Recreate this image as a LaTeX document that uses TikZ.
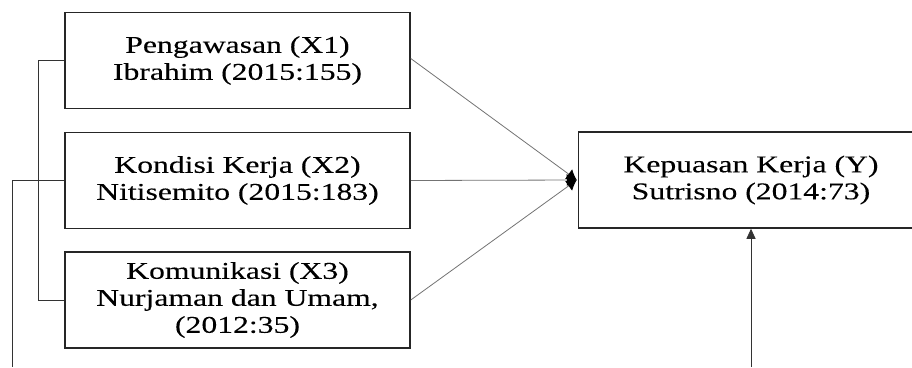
\documentclass[tikz,border=0pt]{standalone}
\usepackage{fontspec}
\setmainfont{Liberation Serif}[FakeStretch=1.32,FakeBold=0.15]
\usetikzlibrary{arrows.meta}
\begin{document}
\begin{tikzpicture}[x=1pt,y=-1pt,
  varbox/.style={draw=black!85, line width=1.5pt, minimum width=345pt, minimum height=96pt,
    align=center, inner sep=0pt, font=\fontsize{24}{27}\selectfont, text=black},
  conn/.style={draw=black!55, line width=0.8pt},
  brk/.style={draw=black!80, line width=0.8pt},
  conv/.style={conn, -{Latex[length=10pt,width=12pt,black]}}]
\useasboundingbox (0,0) rectangle (912,367);
\clip (0,0) rectangle (912,367);
\node[varbox] (b1) at (237.5,60.5) {Pengawasan (X1)\\Ibrahim (2015:155)};
\node[varbox] (b2) at (237.5,180.5) {Kondisi Kerja (X2)\\Nitisemito (2015:183)};
\node[varbox] (b3) at (237.5,300) {Komunikasi (X3)\\Nurjaman dan Umam,\\(2012:35)};
\node[varbox] (y) at (751,180) {Kepuasan Kerja (Y)\\Sutrisno (2014:73)};
\coordinate (lowleft) at (12,367);
\coordinate (lowmid) at (751,367);
\draw[brk] (b1.west) -- ++(-26,0) |- (b3.west);
\draw[brk] (b2.west) -| (lowleft);
\draw[conv] ([yshift=2pt]b1.east) -- ([xshift=-1pt]y.west);
\draw[conv] (b2.east) -- ([xshift=-1pt]y.west);
\draw[conv] (b3.east) -- ([xshift=-1pt]y.west);
\draw[brk, -{Triangle[length=10pt,width=9pt]}] (lowmid) -- (y.south);
\end{tikzpicture}
\end{document}
